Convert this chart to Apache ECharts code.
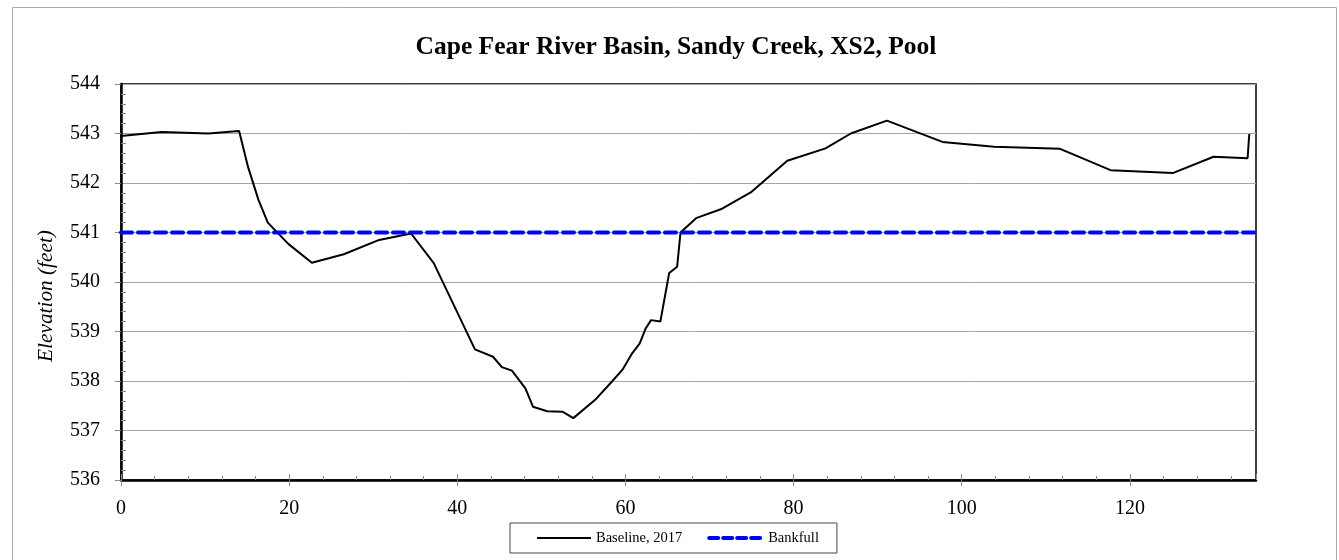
<!DOCTYPE html>
<html>
<head>
<meta charset="utf-8">
<script src="https://cdn.jsdelivr.net/npm/echarts@6/dist/echarts.min.js"></script>
<style>
  html, body { margin: 0; padding: 0; background: #fff; }
  #chart { width: 1339px; height: 560px; }
</style>
</head>
<body>
<div id="chart"></div>
<script>
// station (ft) and elevation (ft)
var stations = [0, 4.8, 10.4, 14.05, 15.1, 16.35, 17.46, 19.9, 22.7, 26.5, 30.7, 34.5, 37.2, 42.1, 44.25,
  45.3, 46.5, 48.1, 49.0, 50.7, 52.5, 53.8, 56.4, 58.4, 59.7, 60.8, 61.7, 62.4, 63.05, 64.15, 65.2,
  66.15, 66.55, 68.4, 71.5, 74.9, 79.25, 83.8, 86.8, 91.1, 97.7, 103.85, 111.7, 117.7, 125.1, 129.95,
  134.0, 134.2];
var elevations = [542.95, 543.03, 543.0, 543.05, 542.33, 541.66, 541.2, 540.77, 540.39, 540.56, 540.85,
  540.98, 540.38, 538.64, 538.49, 538.28, 538.21, 537.85, 537.48, 537.39, 537.38, 537.25, 537.62, 537.99,
  538.24, 538.56, 538.76, 539.06, 539.23, 539.2, 540.18, 540.31, 541.0, 541.29, 541.48, 541.81, 542.45,
  542.70, 543.0, 543.26, 542.83, 542.73, 542.69, 542.26, 542.20, 542.53, 542.50, 542.99];
var bankfullX = [0, 135];
var bankfullY = [541, 541];

var serif = 'Liberation Serif, Times New Roman, serif';

var chart = echarts.init(document.getElementById('chart'));

function pairs(xs, ys) {
  return xs.map(function (x, i) { return [x, ys[i]]; });
}

var option = {
  animation: false,
  backgroundColor: '#fff',
  title: {
    text: 'Cape Fear River Basin, Sandy Creek, XS2, Pool',
    left: 671,
    textAlign: 'center',
    top: 29,
    textStyle: { fontFamily: serif, fontSize: 25.5, fontWeight: 'bold', color: '#000' }
  },
  graphic: [{
    type: 'rect',
    shape: { x: 12.5, y: 7.5, width: 1324, height: 560 },
    style: { fill: 'none', stroke: '#a8a8a8', lineWidth: 1 },
    silent: true
  }],
  legend: {
    left: 510,
    top: 523,
    orient: 'horizontal',
    padding: [7.5, 18, 7.5, 26],
    itemGap: 25,
    itemWidth: 54,
    itemHeight: 14,
    itemStyle: { opacity: 0 },
    borderColor: '#444',
    borderWidth: 1,
    textStyle: { fontFamily: serif, fontSize: 14.5, color: '#000' },
    data: [
      { name: 'Baseline, 2017', lineStyle: { width: 2 } },
      { name: 'Bankfull', lineStyle: { width: 4, type: [9, 5], cap: 'round' } }
    ]
  },
  grid: {
    left: 121, top: 84, right: 83, bottom: 80,
    show: true, borderColor: '#000', borderWidth: 1.5
  },
  xAxis: [{
    type: 'value', min: 0, max: 135, interval: 20,
    axisLine: { show: true, onZero: false, lineStyle: { color: '#000', width: 2.5 } },
    axisTick: { show: true, inside: false, length: 6, lineStyle: { color: '#888' } },
    axisLabel: { fontFamily: serif, fontSize: 20, color: '#000', margin: 19, showMaxLabel: false },
    splitLine: { show: false }
  }, {
    type: 'value', min: 0, max: 135, interval: 20, position: 'bottom',
    axisLine: { show: false },
    axisTick: { show: true, inside: true, length: 6, lineStyle: { color: '#888' } },
    minorTick: { show: true, splitNumber: 5, length: 4, lineStyle: { color: '#888' } },
    axisLabel: { show: false },
    splitLine: { show: false }
  }],
  yAxis: [{
    type: 'value', min: 536, max: 544, interval: 1,
    name: 'Elevation (feet)',
    nameLocation: 'middle',
    nameGap: 64,
    nameTextStyle: { fontFamily: serif, fontSize: 21.3, fontStyle: 'italic', color: '#000', padding: [0, 28, 0, 0] },
    axisLine: { show: true, onZero: false, lineStyle: { color: '#000', width: 2.5 } },
    axisTick: { show: true, inside: false, length: 6, lineStyle: { color: '#888' } },
    axisLabel: { fontFamily: serif, fontSize: 20, color: '#000', margin: 21 },
    splitLine: { show: true, lineStyle: { color: '#a6a6a6', width: 1 } }
  }, {
    type: 'value', min: 536, max: 544, interval: 1, position: 'left',
    axisLine: { show: false },
    axisTick: { show: false, inside: true },
    minorTick: { show: true, splitNumber: 5, length: 5, lineStyle: { color: '#888' } },
    axisLabel: { show: false },
    splitLine: { show: false }
  }],
  series: [{
    name: 'Baseline, 2017',
    type: 'line',
    xAxisIndex: 0, yAxisIndex: 0,
    symbol: 'none',
    lineStyle: { color: '#000', width: 2 },
    itemStyle: { color: '#000' },
    data: pairs(stations, elevations)
  }, {
    name: 'Bankfull',
    type: 'line',
    xAxisIndex: 0, yAxisIndex: 0,
    symbol: 'none',
    lineStyle: { color: '#0000ff', width: 4, type: [11, 6], cap: 'round' },
    itemStyle: { color: '#0000ff' },
    data: pairs(bankfullX, bankfullY)
  }]
};

chart.setOption(option);
</script>
</body>
</html>
